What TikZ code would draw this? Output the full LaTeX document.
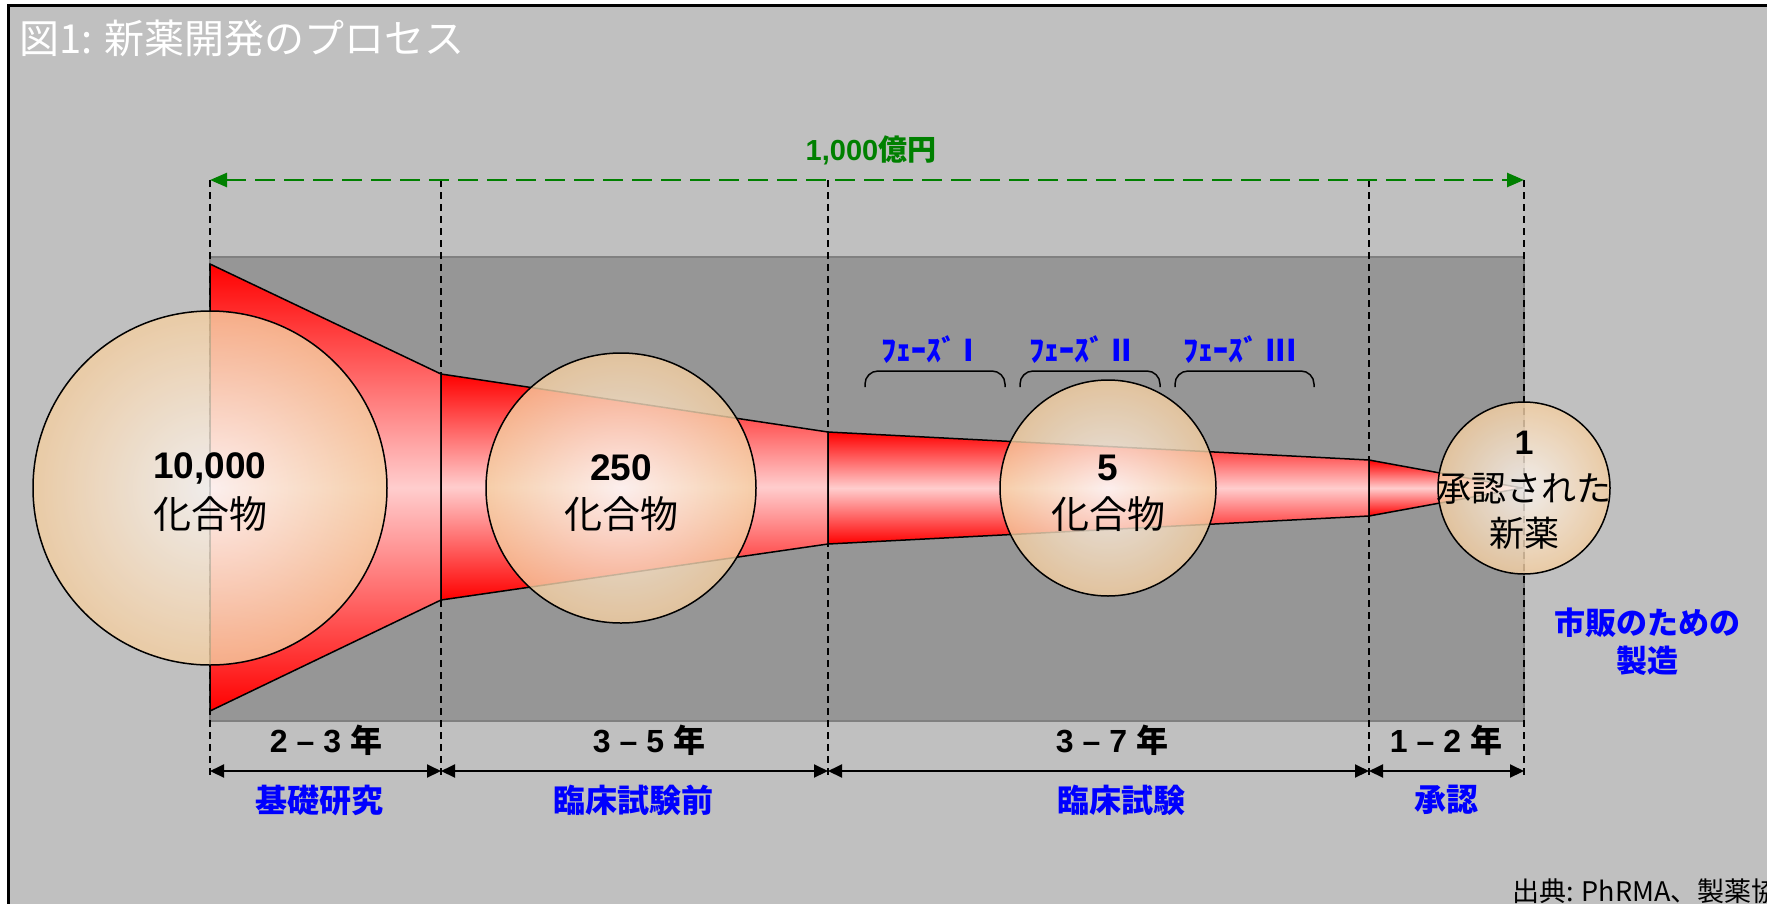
\documentclass[tikz,border=0pt]{standalone}
\usepackage{fontspec}
\setmainfont{Liberation Sans}
\newfontfamily\jp{Noto Sans CJK JP}
\usetikzlibrary{arrows.meta}
\definecolor{bg}{RGB}{192,192,192}
\definecolor{darkbox}{RGB}{150,150,150}
\definecolor{darkedge}{RGB}{128,128,128}
\definecolor{tanc}{RGB}{244,206,160}
\definecolor{centerc}{RGB}{252,248,246}
\definecolor{pinkmid}{RGB}{255,205,205}
\definecolor{grn}{RGB}{0,128,0}
\definecolor{blu}{RGB}{0,0,255}
\tikzset{
  guide/.style={line width=1.5pt, dash pattern=on 7pt off 5pt},
  funnel/.style={top color=red, bottom color=red, middle color=pinkmid, draw=black, line width=1.5pt},
  ball/.style={circle, inner sep=0pt, draw=black, line width=1.5pt, inner color=centerc, outer color=tanc, fill opacity=0.8},
  num/.style={inner sep=0pt, font=\bfseries\fontsize{37}{40}\selectfont},
  jptext/.style={inner sep=0pt, font=\jp\fontsize{38}{42}\selectfont},
  dur/.style={inner sep=0pt, font=\bfseries\fontsize{32}{36}\selectfont},
  stage/.style={inner sep=0pt, text=blu, font=\jp\bfseries\fontsize{32}{36}\selectfont},
  phase/.style={inner sep=0pt, text=blu, font=\jp\bfseries\fontsize{30}{34}\selectfont},
  brace/.style={line width=1.5pt, rounded corners=13pt},
  span/.style={line width=2pt, {Triangle[length=14pt,width=13pt]}-{Triangle[length=14pt,width=13pt]}},
}
\begin{document}
\begin{tikzpicture}[x=1pt,y=-1pt]
\useasboundingbox (0,0) rectangle (1767,903);
\clip (0,0) rectangle (1767,903);
\fill[white] (0,0) rectangle (1767,903);
\draw[line width=3pt, fill=bg] (8,5) rectangle (1820,980);
% title
\node[anchor=west, inner sep=0pt, text=white, font=\jp\fontsize{40}{44}\selectfont] (title) at (19,38) {図1: 新薬開発のプロセス};
% dark band
\draw[darkedge, line width=1.5pt, fill=darkbox] (210,257) rectangle (1524,721);
% guide lines
\foreach \x/\n in {210/a,441/b,828/c,1369/d,1524/e}{
  \coordinate (t\n) at (\x,180);
  \coordinate (b\n) at (\x,778);
  \coordinate (m\n) at (\x,771);
  \draw[guide] (t\n) -- (b\n);
}
% cost arrow
\draw[grn, line width=2.5pt, dash pattern=on 20pt off 9pt, {Triangle[length=17pt,width=14pt]}-{Triangle[length=17pt,width=14pt]}] (ta) -- (te);
\node[text=grn, inner sep=0pt, font=\bfseries\fontsize{29}{32}\selectfont] (cost) at (871,150) {1,000{\jp 億円}};
% funnel
\shadedraw[funnel] (210,264) -- (441,374) -- (441,600) -- (210,711) -- cycle;
\shadedraw[funnel] (441,374) -- (828,432) -- (828,544) -- (441,600) -- cycle;
\shadedraw[funnel] (828,432) -- (1369,460) -- (1369,516) -- (828,544) -- cycle;
\shadedraw[funnel] (1369,460) -- (1522,488) -- (1369,516) -- cycle;
% circles
\node[ball, minimum size=354pt] (c1) at (210,488) {};
\node[ball, minimum size=270pt] (c2) at (621,488) {};
\node[ball, minimum size=216pt] (c3) at (1108,488) {};
\node[ball, minimum size=172pt] (c4) at (1524,488) {};
\node[num] (n1) at (210,468) {10,000};
\node[jptext] (j1) at (210,514) {化合物};
\node[num] (n2) at (621,468) {250};
\node[jptext] (j2) at (621,514) {化合物};
\node[num] (n3) at (1108,468) {5};
\node[jptext] (j3) at (1108,514) {化合物};
\node[num, font=\bfseries\fontsize{34}{38}\selectfont] (n4) at (1524,443) {1};
\node[jptext, font=\jp\fontsize{35}{40}\selectfont] (j4a) at (1524,489) {承認された};
\node[jptext, font=\jp\fontsize{35}{40}\selectfont] (j4b) at (1524,533) {新薬};
% phases
\draw[brace] (865,387) -- (865,371) -- (1005,371) -- (1005,387);
\draw[brace] (1020,387) -- (1020,371) -- (1160,371) -- (1160,387);
\draw[brace] (1175,387) -- (1175,371) -- (1314,371) -- (1314,387);
\node[phase] (p1) at (928,350) {ﾌｪｰｽﾞ I};
\node[phase] (p2) at (1081,350) {ﾌｪｰｽﾞ II};
\node[phase] (p3) at (1240,350) {ﾌｪｰｽﾞ III};
% spans
\draw[span] (ma) -- (mb);
\draw[span] (mb) -- (mc);
\draw[span] (mc) -- (md);
\draw[span] (md) -- (me);
\node[dur] (d1) at (326,740) {2 – 3 {\jp 年}};
\node[dur] (d2) at (649,740) {3 – 5 {\jp 年}};
\node[dur] (d3) at (1112,740) {3 – 7 {\jp 年}};
\node[dur] (d4) at (1446,740) {1 – 2 {\jp 年}};
\node[stage] (s1) at (319,800) {基礎研究};
\node[stage] (s2) at (633,800) {臨床試験前};
\node[stage] (s3) at (1121,800) {臨床試験};
\node[stage] (s4) at (1446,800) {承認};
\node[stage, align=center, font=\jp\bfseries\fontsize{31}{38}\selectfont] (mfg) at (1647,642) {市販のための\\製造};
% source
\node[anchor=base west, inner sep=0pt, font=\jp\fontsize{27}{30}\selectfont] (src) at (1512,901) {出典: PhRMA、製薬協};
\end{tikzpicture}
\end{document}
